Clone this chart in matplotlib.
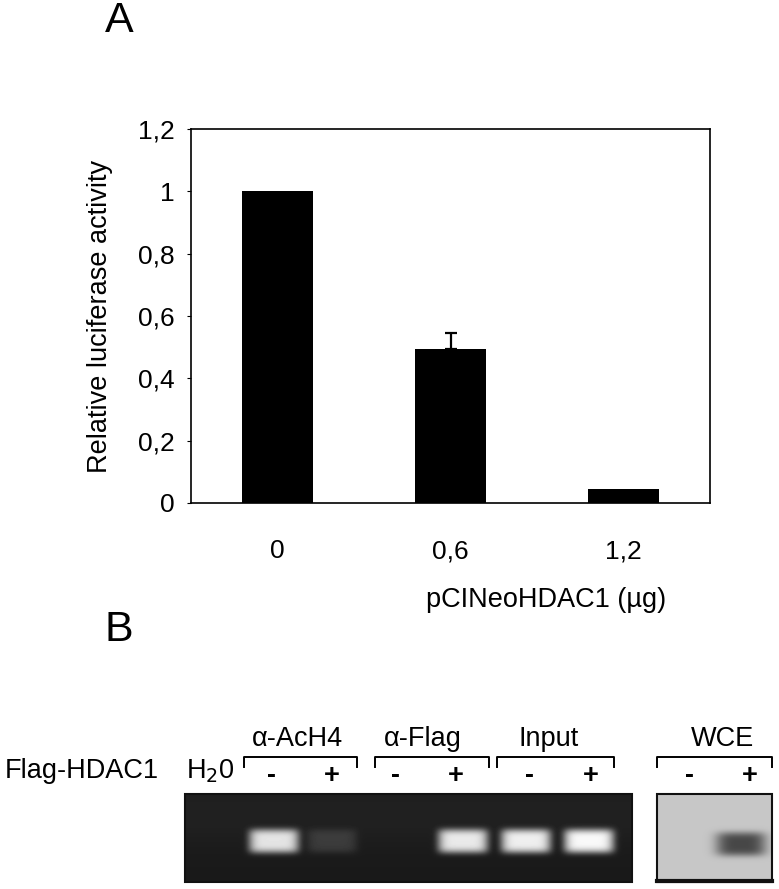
import numpy as np
import matplotlib
matplotlib.use("Agg")
import matplotlib.pyplot as plt
from matplotlib.patches import Rectangle

plt.rcParams['font.family'] = ['Liberation Sans', 'DejaVu Sans']

# panel A data
doses = ["0", "0,6", "1,2"]
activity = [1.0, 0.495, 0.045]
err_up = [0.0, 0.05, 0.0]
yticks = [0, 0.2, 0.4, 0.6, 0.8, 1.0, 1.2]
ytick_labels = ["0", "0,2", "0,4", "0,6", "0,8", "1", "1,2"]

# panel B data (band intensity per lane, 0 = none)
gel_lanes = ["H2O", "AcH4 -", "AcH4 +", "Flag -", "Flag +", "Input -", "Input +"]
gel_intensity = [0.0, 0.78, 0.12, 0.0, 0.8, 0.82, 0.86]
wce_lanes = ["-", "+"]
wce_intensity = [0.0, 0.5]

W, H = 779, 889
fig = plt.figure(figsize=(W / 100, H / 100), dpi=100)

# ---- panel A ----
ax = fig.add_axes([191 / W, 1 - 503 / H, (710 - 191) / W, (503 - 129) / H])
x = np.arange(len(doses))
ax.bar(x, activity, width=0.415, color="black")
ax.errorbar(x[1], activity[1], yerr=[[0], [err_up[1]]], fmt="none",
            ecolor="black", elinewidth=1.6, capsize=4, capthick=1.6)
ax.set_xlim(-0.5, 2.5)
ax.set_ylim(0, 1.2)
ax.set_yticks(yticks)
ax.set_yticklabels(ytick_labels, fontsize=19)
ax.set_xticks(x)
ax.set_xticklabels(doses, fontsize=19)
ax.tick_params(axis="x", length=0, pad=26)
ax.tick_params(axis="y", length=3, pad=9)
for s in ax.spines.values():
    s.set_linewidth(1.2)
ax.set_ylabel("Relative luciferase activity", fontsize=19.5, labelpad=18)

# overlay in pixel coordinates
ov = fig.add_axes([0, 0, 1, 1])
ov.set_xlim(0, W)
ov.set_ylim(H, 0)
ov.axis("off")

ov.text(546, 600, "pCINeoHDAC1 (\u00b5g)", fontsize=19.5, ha="center", va="center")
ov.text(119, 21, "A", fontsize=31, ha="center", va="center")
ov.text(119, 630, "B", fontsize=31, ha="center", va="center")

# ---- panel B: agarose gel ----
gx0, gx1, gy0, gy1 = 185, 632, 794, 882
lane_x = [210, 274, 332, 463 - 63, 463, 526, 589]
band_w, band_h, band_y = 50, 24, 841
xx, yy = np.meshgrid(np.arange(gx0, gx1) + 0.5, np.arange(gy0, gy1) + 0.5)
gel = np.full(xx.shape, 0.1) + 0.03 * np.exp(-((yy - 815) / 30) ** 2)
for cx, inten in zip(lane_x, gel_intensity):
    prof = np.exp(-((xx - cx) / (band_w / 2)) ** 6) * np.exp(-((yy - band_y) / (band_h / 2)) ** 4)
    gel = gel + inten * prof
ov.imshow(gel, cmap="gray", vmin=0, vmax=1, extent=(gx0, gx1, gy1, gy0),
          aspect="auto", interpolation="bicubic", zorder=1)
ov.add_patch(Rectangle((gx0, gy0), gx1 - gx0, gy1 - gy0, fill=False,
                       edgecolor="#111111", lw=1.5, zorder=2))

# ---- WCE western ----
wx0, wx1 = 657, 772
wce_x = [690, 741]
wxx, wyy = np.meshgrid(np.arange(wx0, wx1) + 0.5, np.arange(gy0, gy1) + 0.5)
wce = np.full(wxx.shape, 0.78)
for cx, inten in zip(wce_x, wce_intensity):
    prof = np.exp(-((wxx - cx) / 25) ** 4) * np.exp(-((wyy - 844) / 12) ** 4)
    wce = wce - inten * prof
ov.imshow(wce, cmap="gray", vmin=0, vmax=1, extent=(wx0, wx1, gy1, gy0),
          aspect="auto", interpolation="bicubic", zorder=1)
ov.add_patch(Rectangle((wx0, gy0), wx1 - wx0, gy1 - gy0, fill=False,
                       edgecolor="#111111", lw=1.5, zorder=2))
ov.plot([wx0, wx1], [gy1 - 1.5, gy1 - 1.5], color="#111111", lw=3, zorder=3)

# ---- labels and brackets ----
fs = 19.5
ov.text(82, 771, "Flag-HDAC1", fontsize=fs, ha="center", va="center")
ov.text(210, 771, "H$_2$0", fontsize=fs, ha="center", va="center")

groups = ["\u03b1-AcH4", "\u03b1-Flag", "Input", "WCE"]
group_x = [(244, 357), (375, 489), (497, 614), (657, 772)]
group_label_x = [297, 423, 549, 723]
sign_x = [(272, 332), (396, 456), (530, 591), (690, 750)]
for name, (a, b), lx, (sm, sp) in zip(groups, group_x, group_label_x, sign_x):
    ov.plot([a, a, b, b], [767, 757, 757, 767], color="black", lw=1.4)
    ov.text(lx, 739, name, fontsize=fs, ha="center", va="center")
    ov.text(sm, 776, "-", fontsize=fs, ha="center", va="center", fontweight="bold")
    ov.text(sp, 776, "+", fontsize=fs, ha="center", va="center", fontweight="bold")

fig.savefig("out.png", dpi=100)
